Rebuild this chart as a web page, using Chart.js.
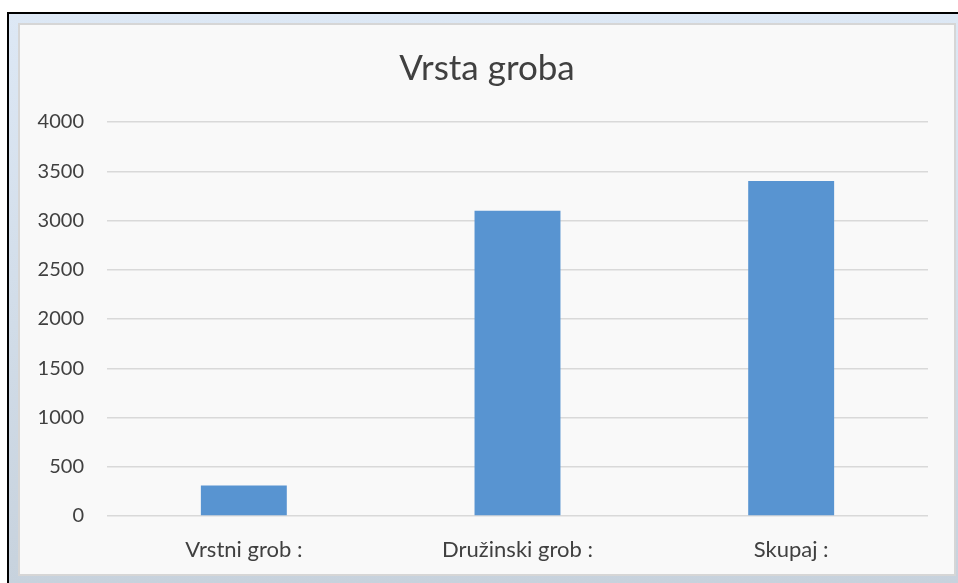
<!DOCTYPE html>
<html>
<head>
<meta charset="utf-8">
<script src="https://cdn.jsdelivr.net/npm/chart.js@4/dist/chart.umd.min.js"></script>
<style>
    html, body { margin: 0; padding: 0; background: #ffffff; width: 958px; height: 583px; overflow: hidden; }
    #frame {
        position: absolute; left: 7px; top: 12px; width: 951px; height: 571px;
        border-top: 2px solid #000; border-left: 2px solid #000;
        background: linear-gradient(#dde8f5, #c7d2dd);
    }
    #plot-box {
        position: absolute; left: 18px; top: 23px; width: 934px; height: 549px;
        border: 2px solid #d6d6d6; background: #f9f9f9;
    }
    #chart { position: absolute; left: 20px; top: 25px; }
</style>
</head>
<body>
<div id="frame"></div>
<div id="plot-box"></div>
<canvas id="chart" width="934" height="549"></canvas>
<script>
const categories = ['Vrstni grob :', 'Družinski grob :', 'Skupaj :'];
const counts = [310, 3100, 3400];
const yTicks = [0, 500, 1000, 1500, 2000, 2500, 3000, 3500, 4000];

const TEXT = '#404040';
const GRID = '#d9d9d9';
const BAR = '#5894d1';

const ctx = document.getElementById('chart').getContext('2d');

new Chart(ctx, {
    type: 'bar',
    data: {
        labels: categories,
        datasets: [{
            label: 'Vrsta groba',
            data: counts,
            backgroundColor: BAR,
            borderWidth: 0,
            categoryPercentage: 1,
            barPercentage: 0.314
        }]
    },
    options: {
        responsive: false,
        animation: false,
        devicePixelRatio: 1,
        layout: { padding: 0 },
        plugins: {
            legend: { display: false },
            tooltip: { enabled: false },
            title: {
                display: true,
                text: 'Vrsta groba',
                color: TEXT,
                font: { family: 'Lato', size: 35, weight: 'normal' },
                padding: { top: 23, bottom: 32 }
            }
        },
        scales: {
            x: {
                afterFit: scale => { scale.height = 58; },
                grid: { display: false, drawTicks: false },
                border: { display: false },
                ticks: {
                    color: TEXT,
                    padding: 21,
                    font: { family: 'Lato', size: 22 }
                }
            },
            y: {
                min: 0,
                max: 4000,
                afterBuildTicks: scale => { scale.ticks = yTicks.map(v => ({ value: v })); },
                afterFit: scale => { scale.width = 87; },
                grid: { color: GRID, lineWidth: 1.5, drawTicks: false },
                border: { display: false },
                ticks: {
                    color: TEXT,
                    padding: 23,
                    font: { family: 'Lato', size: 20 },
                    callback: value => String(value)
                }
            },
            // empty right-hand axis, only keeps the plot clear of the right edge
            yRight: {
                position: 'right',
                min: 0,
                max: 4000,
                afterFit: scale => { scale.width = 26; },
                grid: { display: false, drawTicks: false },
                border: { display: false },
                ticks: { display: false }
            }
        }
    }
});
</script>
</body>
</html>
